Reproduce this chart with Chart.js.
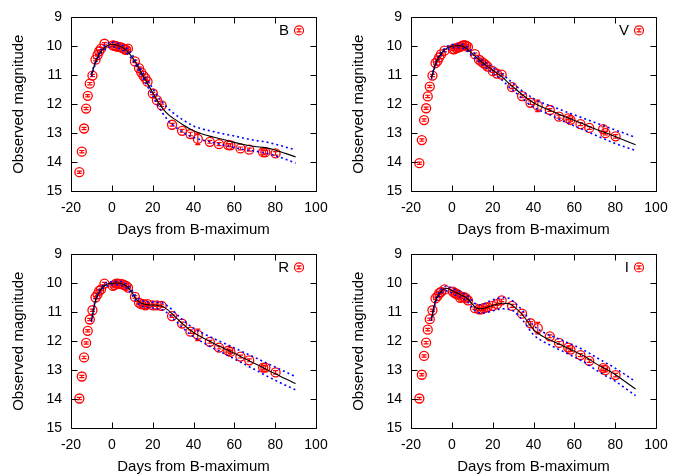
<!DOCTYPE html>
<html>
<head>
<meta charset="utf-8">
<script src="https://cdn.jsdelivr.net/npm/chart.js@4.4.1/dist/chart.umd.min.js"></script>
<style>
  body { margin: 0; background: #fff; }
  #wrap { position: relative; width: 685px; height: 474px; }
  .panel { position: absolute; }
</style>
</head>
<body>
<div id="wrap">
  <div class="panel" style="left:0;top:0"><canvas id="cB" width="340" height="237"></canvas></div>
  <div class="panel" style="left:340px;top:0"><canvas id="cV" width="345" height="237"></canvas></div>
  <div class="panel" style="left:0;top:237px"><canvas id="cR" width="340" height="237"></canvas></div>
  <div class="panel" style="left:340px;top:237px"><canvas id="cI" width="345" height="237"></canvas></div>
</div>
<script>
// observation epochs (days from B max), shared by all bands
const obsDays = [-15.9, -14.7, -13.6, -12.6, -11.8, -10.8, -9.5, -8.0, -7.0, -6.2, -5.3, -3.6,
  0.5, 1.3, 2.1, 3.1, 4.1, 5.1, 6.1, 7.0, 7.9,
  11.3, 13.3, 14.4, 15.5, 16.5, 17.5, 20.1, 22.1, 24.4, 29.5, 34.4, 38.5, 42.1,
  48.0, 52.5, 57.0, 58.1, 63.0, 67.3, 74.1, 75.2, 80.2];
const obsErr = [0.04, 0.04, 0.04, 0.04, 0.04, 0.04, 0.04, 0.04, 0.04, 0.04, 0.04, 0.04,
  0.04, 0.04, 0.04, 0.04, 0.04, 0.04, 0.04, 0.04, 0.04,
  0.04, 0.04, 0.04, 0.04, 0.04, 0.04, 0.04, 0.04, 0.04, 0.05, 0.05, 0.06, 0.2,
  0.05, 0.05, 0.05, 0.05, 0.05, 0.05, 0.08, 0.06, 0.06];

const magB = [14.35, 13.64, 12.84, 12.15, 11.71, 11.29, 11.01, 10.46, 10.30, 10.17, 10.08, 9.91,
  9.97, 9.98, 10.00, 10.02, 10.03, 10.05, 10.10, 10.12, 10.08,
  10.52, 10.75, 10.90, 11.02, 11.11, 11.22, 11.63, 11.86, 12.04, 12.71, 12.92, 13.03, 13.20,
  13.30, 13.38, 13.41, 13.42, 13.53, 13.57, 13.66, 13.66, 13.70];
const magV = [14.04, 13.24, 12.55, 12.14, 11.73, 11.39, 11.01, 10.58, 10.50, 10.38, 10.28, 10.15,
  10.10, 10.10, 10.06, 10.04, 10.02, 9.98, 9.96, 9.98, 10.02,
  10.27, 10.46, 10.52, 10.58, 10.63, 10.70, 10.86, 10.94, 10.98, 11.41, 11.72, 11.95, 12.06,
  12.20, 12.43, 12.49, 12.54, 12.69, 12.82, 12.86, 13.00, 13.11];
const magR = [13.98, 13.22, 12.56, 12.06, 11.64, 11.25, 10.93, 10.49, 10.38, 10.26, 10.21, 10.01,
  10.09, 10.06, 10.01, 10.01, 10.03, 10.03, 10.06, 10.09, 10.15,
  10.47, 10.67, 10.72, 10.72, 10.76, 10.72, 10.76, 10.76, 10.78, 11.13, 11.39, 11.67, 11.78,
  12.02, 12.22, 12.33, 12.37, 12.53, 12.66, 12.91, 12.91, 13.08];
const magI = [13.98, 13.16, 12.51, 12.05, 11.60, 11.24, 10.93, 10.52, 10.44, 10.34, 10.30, 10.21,
  10.29, 10.33, 10.36, 10.39, 10.50, 10.48, 10.48, 10.52, 10.59,
  10.86, 10.90, 10.90, 10.86, 10.84, 10.82, 10.78, 10.72, 10.59, 10.78, 11.05, 11.38, 11.55,
  11.83, 12.06, 12.22, 12.29, 12.48, 12.68, 12.93, 13.00, 13.17];

// template fit, read at these epochs
const modelDays = [-10, -8, -6, -4, -2, 0, 2, 4, 6, 8, 10, 12, 14, 16, 18, 20, 22, 25, 28, 30,
  35, 40, 45, 50, 55, 60, 65, 70, 75, 80, 85, 90];

const fitB = [11.00, 10.55, 10.25, 10.07, 9.97, 9.93, 9.95, 10.00, 10.08, 10.20, 10.38, 10.60, 10.85, 11.10, 11.35, 11.60, 11.85, 12.15, 12.38, 12.48,
  12.72, 12.92, 13.05, 13.14, 13.23, 13.32, 13.40, 13.46, 13.50, 13.58, 13.70, 13.82];
const hiB = [10.95, 10.50, 10.20, 10.00, 9.90, 9.86, 9.88, 9.92, 10.00, 10.12, 10.30, 10.52, 10.76, 11.00, 11.22, 11.45, 11.68, 11.95, 12.18, 12.30,
  12.55, 12.75, 12.87, 12.95, 13.03, 13.10, 13.18, 13.25, 13.30, 13.38, 13.48, 13.58];
const loB = [11.05, 10.60, 10.30, 10.13, 10.04, 10.02, 10.04, 10.08, 10.16, 10.28, 10.47, 10.69, 10.94, 11.20, 11.45, 11.72, 11.98, 12.32, 12.60, 12.72,
  12.98, 13.15, 13.25, 13.33, 13.42, 13.50, 13.57, 13.62, 13.68, 13.78, 13.90, 14.04];

const fitV = [11.10, 10.62, 10.33, 10.15, 10.05, 10.00, 9.98, 9.98, 10.02, 10.12, 10.25, 10.38, 10.50, 10.62, 10.72, 10.82, 10.92, 11.08, 11.28, 11.40,
  11.70, 11.95, 12.12, 12.27, 12.42, 12.56, 12.70, 12.85, 12.98, 13.12, 13.26, 13.40];
const hiV = [11.06, 10.58, 10.28, 10.10, 9.99, 9.94, 9.92, 9.92, 9.95, 10.05, 10.17, 10.30, 10.42, 10.53, 10.63, 10.72, 10.82, 10.97, 11.16, 11.28,
  11.57, 11.80, 11.97, 12.10, 12.24, 12.37, 12.50, 12.63, 12.76, 12.89, 13.02, 13.15];
const loV = [11.14, 10.66, 10.38, 10.20, 10.11, 10.06, 10.04, 10.05, 10.09, 10.19, 10.33, 10.46, 10.58, 10.71, 10.81, 10.92, 11.02, 11.19, 11.40, 11.52,
  11.83, 12.10, 12.27, 12.43, 12.60, 12.75, 12.90, 13.06, 13.21, 13.36, 13.48, 13.60];

const fitR = [11.30, 10.60, 10.28, 10.10, 10.02, 10.00, 9.99, 10.00, 10.05, 10.15, 10.33, 10.55, 10.67, 10.72, 10.74, 10.75, 10.76, 10.80, 10.95, 11.08,
  11.42, 11.70, 11.90, 12.08, 12.25, 12.42, 12.60, 12.77, 12.95, 13.12, 13.30, 13.46];
const hiR = [11.26, 10.56, 10.23, 10.04, 9.96, 9.94, 9.93, 9.93, 9.98, 10.07, 10.25, 10.46, 10.58, 10.62, 10.64, 10.65, 10.65, 10.68, 10.82, 10.95,
  11.28, 11.55, 11.74, 11.91, 12.07, 12.23, 12.40, 12.56, 12.73, 12.89, 13.06, 13.22];
const loR = [11.34, 10.64, 10.33, 10.16, 10.08, 10.06, 10.05, 10.07, 10.12, 10.23, 10.41, 10.64, 10.76, 10.82, 10.84, 10.85, 10.87, 10.92, 11.08, 11.21,
  11.56, 11.85, 12.06, 12.25, 12.43, 12.61, 12.80, 12.98, 13.17, 13.35, 13.52, 13.68];

const fitI = [11.25, 10.62, 10.35, 10.20, 10.18, 10.25, 10.32, 10.38, 10.45, 10.55, 10.72, 10.85, 10.88, 10.86, 10.81, 10.76, 10.72, 10.69, 10.70, 10.78,
  11.12, 11.60, 11.85, 12.02, 12.18, 12.35, 12.52, 12.75, 12.95, 13.15, 13.40, 13.65];
const hiI = [11.20, 10.57, 10.28, 10.13, 10.10, 10.17, 10.23, 10.29, 10.36, 10.45, 10.60, 10.72, 10.74, 10.70, 10.63, 10.57, 10.53, 10.50, 10.52, 10.62,
  10.97, 11.45, 11.70, 11.85, 12.00, 12.15, 12.32, 12.53, 12.73, 12.93, 13.16, 13.40];
const loI = [11.30, 10.67, 10.42, 10.27, 10.26, 10.33, 10.41, 10.47, 10.55, 10.66, 10.84, 10.98, 11.02, 11.02, 10.99, 10.95, 10.91, 10.88, 10.90, 10.95,
  11.30, 11.78, 12.02, 12.20, 12.37, 12.55, 12.73, 12.97, 13.18, 13.38, 13.63, 13.88];

const xTicks = [-20, 0, 20, 40, 60, 80, 100];
const yTicks = [9, 10, 11, 12, 13, 14, 15];

const FONT = "'Liberation Sans', Arial, sans-serif";
const RED = '#ff0000';

function xy(xs, ys) {
  return xs.map((x, i) => ({ x: x, y: ys[i] }));
}

function drawMarker(ctx, px, py, up, down) {
  ctx.strokeStyle = RED;
  ctx.lineWidth = 1.2;
  ctx.beginPath();
  ctx.moveTo(px, up); ctx.lineTo(px, down);
  ctx.moveTo(px - 2.5, up); ctx.lineTo(px + 2.5, up);
  ctx.moveTo(px - 2.5, down); ctx.lineTo(px + 2.5, down);
  ctx.stroke();
}

// error bars under the circles
const errorBars = {
  id: 'errorBars',
  beforeDatasetsDraw(chart) {
    const { ctx, scales: { x, y } } = chart;
    const pts = chart.data.datasets[3].data;
    ctx.save();
    pts.forEach((p, i) => {
      const e = obsErr[i];
      drawMarker(ctx, x.getPixelForValue(p.x), y.getPixelForValue(p.y),
        y.getPixelForValue(p.y - e), y.getPixelForValue(p.y + e));
    });
    ctx.restore();
  }
};

// gnuplot-like box with inward ticks, plus the band key
const frame = {
  id: 'frame',
  afterDraw(chart, args, opts) {
    const { ctx, chartArea: a, scales: { x, y } } = chart;
    const L = Math.round(a.left) + 0.5, R = Math.round(a.right) + 0.5;
    const T = Math.round(a.top) + 0.5, B = Math.round(a.bottom) + 0.5;
    ctx.save();
    ctx.strokeStyle = '#000';
    ctx.lineWidth = 1;
    ctx.beginPath();
    ctx.rect(L, T, R - L, B - T);
    xTicks.forEach(v => {
      const px = Math.round(x.getPixelForValue(v)) + 0.5;
      ctx.moveTo(px, B); ctx.lineTo(px, B - 6);
      ctx.moveTo(px, T); ctx.lineTo(px, T + 6);
    });
    yTicks.forEach(v => {
      const py = Math.round(y.getPixelForValue(v)) + 0.5;
      ctx.moveTo(L, py); ctx.lineTo(L + 6, py);
      ctx.moveTo(R, py); ctx.lineTo(R - 6, py);
    });
    ctx.stroke();

    const ky = a.top + 13;
    ctx.fillStyle = '#000';
    ctx.font = '15px ' + FONT;
    ctx.textAlign = 'right';
    ctx.textBaseline = 'middle';
    ctx.fillText(opts.label, a.right - 27, ky);
    const kx = a.right - 17;
    drawMarker(ctx, kx, ky, ky - 1.5, ky + 1.5);
    ctx.beginPath();
    ctx.arc(kx, ky, 4.5, 0, Math.PI * 2);
    ctx.stroke();
    ctx.restore();
  }
};

function lightCurve(canvasId, band, mags, fit, hi, lo) {
  const canvas = document.getElementById(canvasId);
  const rightPad = canvas.width - 316;
  return new Chart(canvas, {
    type: 'scatter',
    data: {
      datasets: [
        {
          data: xy(modelDays, fit), showLine: true, borderColor: '#000', borderWidth: 1.1,
          pointRadius: 0, cubicInterpolationMode: 'monotone'
        },
        {
          data: xy(modelDays, hi), showLine: true, borderColor: '#0000ff', borderWidth: 1.6,
          borderDash: [2, 3], pointRadius: 0, cubicInterpolationMode: 'monotone'
        },
        {
          data: xy(modelDays, lo), showLine: true, borderColor: '#0000ff', borderWidth: 1.6,
          borderDash: [2, 3], pointRadius: 0, cubicInterpolationMode: 'monotone'
        },
        {
          data: xy(obsDays, mags), pointRadius: 4.5, pointBorderColor: RED,
          pointBackgroundColor: 'rgba(0,0,0,0)', pointBorderWidth: 1.3
        }
      ]
    },
    options: {
      responsive: false,
      animation: false,
      layout: { padding: { top: 16, right: rightPad, left: 0, bottom: 0 } },
      plugins: { legend: { display: false }, tooltip: { enabled: false }, frame: { label: band } },
      scales: {
        x: {
          type: 'linear', min: -20, max: 100,
          afterFit: s => { s.height = 46; },
          grid: { display: false, drawTicks: false },
          border: { display: false },
          ticks: { stepSize: 20, padding: 9, color: '#000', font: { family: FONT, size: 14 } },
          title: {
            display: true, text: 'Days from B-maximum', color: '#000',
            font: { family: FONT, size: 15, lineHeight: 1 }, padding: 0
          }
        },
        y: {
          type: 'linear', min: 9, max: 15, reverse: true,
          afterFit: s => { s.width = 71; },
          grid: { display: false, drawTicks: false },
          border: { display: false },
          ticks: { stepSize: 1, padding: 9, color: '#000', font: { family: FONT, size: 14 } },
          title: {
            display: true, text: 'Observed magnitude', color: '#000',
            font: { family: FONT, size: 15, lineHeight: 1.2 }, padding: { top: 10, bottom: 0 }
          }
        }
      }
    },
    plugins: [errorBars, frame]
  });
}

lightCurve('cB', 'B', magB, fitB, hiB, loB);
lightCurve('cV', 'V', magV, fitV, hiV, loV);
lightCurve('cR', 'R', magR, fitR, hiR, loR);
lightCurve('cI', 'I', magI, fitI, hiI, loI);
</script>
</body>
</html>
